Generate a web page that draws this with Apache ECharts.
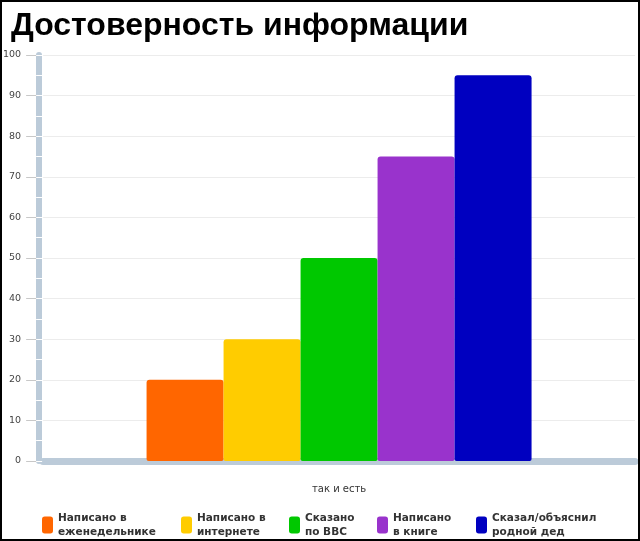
<!DOCTYPE html>
<html><head><meta charset="utf-8">
<script src="https://cdn.jsdelivr.net/npm/echarts@6/dist/echarts.min.js"></script>
<style>html,body{margin:0;padding:0;background:#fff}#c{width:640px;height:541px}</style>
</head><body><div id="c"></div>
<script>
const titleText = 'Достоверность информации';
const categories = ['так и есть'];
const seriesNames = ['Написано в\nеженедельнике', 'Написано в\nинтернете', 'Сказано\nпо BBC', 'Написано\nв книге', 'Сказал/объяснил\nродной дед'];
const seriesValues = [20, 30, 50, 75, 95];
const seriesColors = ['#ff6600', '#ffcc00', '#00c800', '#9933cc', '#0000c0'];
const yTicks = [0, 10, 20, 30, 40, 50, 60, 70, 80, 90, 100];
const legendLefts = [37, 176, 284, 372, 471];

const chart = echarts.init(document.getElementById('c'));
const series = seriesNames.map((n, i) => ({
  name: n, type: 'bar', data: [seriesValues[i]], barWidth: 77, barGap: '0%',
  itemStyle: { color: seriesColors[i], borderRadius: [3, 3, 2, 2] }, xAxisIndex: 0, yAxisIndex: 0
}));
const legends = seriesNames.map((n, i) => ({
  data: [n], left: legendLefts[i], top: 506, icon: 'roundRect', itemWidth: 11, itemHeight: 17,
  itemGap: 8, selectedMode: false,
  textStyle: { fontFamily: 'DejaVu Sans', fontWeight: 'bold', fontSize: 10.5, color: '#333', lineHeight: 14 }
}));
chart.setOption({
  animation: false,
  title: { text: titleText, left: 6, top: 5, textStyle: { fontFamily: 'Liberation Sans', fontWeight: 'bold', fontSize: 32, color: '#000' } },
  grid: { left: 42, right: 5, top: 55, bottom: 80 },
  legend: legends,
  xAxis: { type: 'category', data: categories, offset: 5,
    axisLine: { lineStyle: { color: '#bccbd9', width: 7 } }, axisTick: { show: false },
    axisLabel: { margin: 18, fontFamily: 'DejaVu Sans', fontSize: 10, color: '#333' } },
  yAxis: [
    { type: 'value', min: yTicks[0], max: yTicks[yTicks.length - 1], interval: 10, offset: 4,
      axisLine: { show: true, lineStyle: { color: '#bccbd9', width: 6 } },
      axisTick: { show: true, length: 13, lineStyle: { color: '#c8c8c8' } },
      axisLabel: { margin: 18, fontFamily: 'DejaVu Sans', fontSize: 9.5, color: '#444' },
      splitLine: { lineStyle: { color: '#ececec' } } },
    { type: 'value', min: 0, max: 100, interval: 5, offset: 7, position: 'left',
      axisLine: { show: false }, axisLabel: { show: false }, splitLine: { show: false },
      axisTick: { show: true, inside: true, length: 6, lineStyle: { color: '#ffffff', width: 1 } } }
  ],
  series: series,
  graphic: [{ type: 'rect', shape: { x: 0, y: 0, width: 640, height: 541 }, style: { fill: null, stroke: '#000', lineWidth: 4 }, z: 100 }]
});
</script></body></html>
